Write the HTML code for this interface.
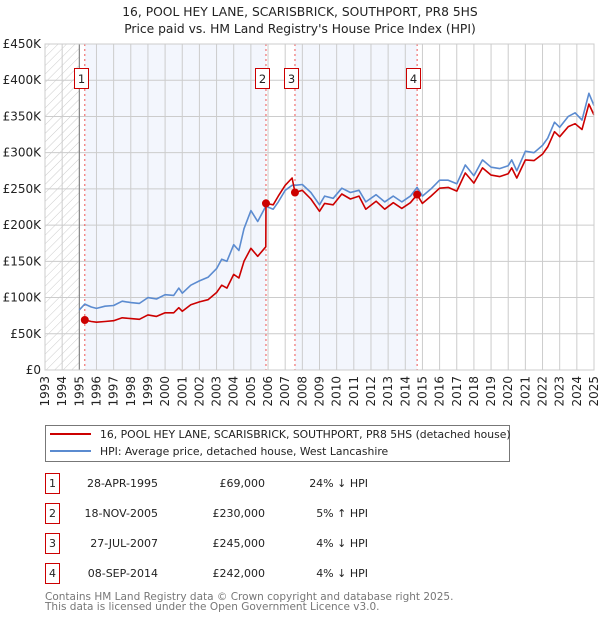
<!DOCTYPE html>
<html><head><meta charset="utf-8"><style>
body{margin:0;background:#fff;font-family:"DejaVu Sans","Liberation Sans",sans-serif;}
svg text{font-family:"DejaVu Sans","Liberation Sans",sans-serif;}
</style></head><body>
<svg id="c" width="600" height="620" xmlns="http://www.w3.org/2000/svg"></svg>
<script>
const years=[1995.0,1995.32,1995.7,1996.0,1996.5,1997.0,1997.5,1998.0,1998.5,1999.0,1999.5,2000.0,2000.5,2000.8,2001.0,2001.5,2002.0,2002.5,2003.0,2003.3,2003.6,2004.0,2004.3,2004.6,2005.0,2005.4,2005.87,2005.88,2006.3,2006.6,2007.0,2007.4,2007.57,2008.0,2008.5,2009.0,2009.3,2009.8,2010.3,2010.8,2011.3,2011.7,2012.3,2012.8,2013.3,2013.8,2014.3,2014.69,2015.0,2015.5,2016.0,2016.5,2017.0,2017.5,2018.0,2018.5,2019.0,2019.5,2020.0,2020.2,2020.5,2021.0,2021.5,2022.0,2022.3,2022.7,2023.0,2023.5,2023.9,2024.3,2024.7,2025.0];
const hpiValues=[83,91,87,85,88,89,95,93,92,100,98,104,103,113,106,117,123,128,140,153,150,173,165,195,220,205,226,226,222,232,248,255,255,256,245,228,240,237,251,245,248,232,242,232,240,232,240,252,240,250,262,262,257,283,268,290,280,278,282,290,275,302,300,310,320,342,335,350,355,345,382,365];
const propValues=[null,69,67,66,67,68,72,71,70,76,74,79,79,86,81,90,94,97,107,117,113,132,127,150,168,157,170,230,228,240,255,265,245,248,236,219,230,228,243,236,240,222,233,222,231,223,231,242,230,240,251,252,247,272,258,279,269,267,271,279,265,290,289,298,308,329,322,336,340,332,367,352];
const saleYears=[1995.32,2005.88,2007.57,2014.69];
const salePrices=[69,230,245,242];
const yTicks=[0,50,100,150,200,250,300,350,400,450];
const yTickLabels=["£0","£50K","£100K","£150K","£200K","£250K","£300K","£350K","£400K","£450K"];
const xTicks=[1993,1994,1995,1996,1997,1998,1999,2000,2001,2002,2003,2004,2005,2006,2007,2008,2009,2010,2011,2012,2013,2014,2015,2016,2017,2018,2019,2020,2021,2022,2023,2024,2025];
const saleDates=["28-APR-1995","18-NOV-2005","27-JUL-2007","08-SEP-2014"];
const salePriceLabels=["£69,000","£230,000","£245,000","£242,000"];
const saleHpi=["24% ↓ HPI","5% ↑ HPI","4% ↓ HPI","4% ↓ HPI"];

const L=45,R=594,T=44,B=370;
const X=v=>L+(v-1993)/(2025-1993)*(R-L);
const Y=v=>B-v/450*(B-T);
const svg=document.getElementById('c');
const NS='http://www.w3.org/2000/svg';
function mk(tag,at,parent){const e=document.createElementNS(NS,tag);for(const k in at)e.setAttribute(k,at[k]);(parent||svg).appendChild(e);return e;}

let t=mk('text',{x:300,y:16,'text-anchor':'middle','font-size':12.3,fill:'#222'});t.textContent='16, POOL HEY LANE, SCARISBRICK, SOUTHPORT, PR8 5HS';


t=mk('text',{x:300,y:33,'text-anchor':'middle','font-size':12.3,fill:'#222'});t.textContent="Price paid vs. HM Land Registry's House Price Index (HPI)";



const defs=mk('defs',{});
const pat=mk('pattern',{id:'h',width:6,height:6,patternUnits:'userSpaceOnUse',patternTransform:'rotate(45)'},defs);
mk('line',{x1:0,y1:0,x2:0,y2:6,stroke:'#ccc','stroke-width':1},pat);

let r=mk('rect',{x:L,y:T,width:X(1995)-L,height:B-T,fill:'url(#h)'});


r=mk('rect',{x:X(saleYears[0]),y:T,width:X(saleYears[1])-X(saleYears[0]),height:B-T,fill:'#f3f6fd'});


r=mk('rect',{x:X(saleYears[2]),y:T,width:X(saleYears[3])-X(saleYears[2]),height:B-T,fill:'#f3f6fd'});



xTicks.forEach(v=>{
 const l=mk('line',{x1:X(v),x2:X(v),y1:T,y2:B,stroke:'#ccc','stroke-width':1});
 
 
 const tx=mk('text',{x:0,y:0,'font-size':12,fill:'#222','text-anchor':'end',transform:`translate(${X(v)+4},${B+6}) rotate(-90)`});
 tx.textContent=v;
 
 
});
yTicks.forEach((v,i)=>{
 const l=mk('line',{x1:L,x2:R,y1:Y(v),y2:Y(v),stroke:'#ccc','stroke-width':1});
 
 
 const tx=mk('text',{x:L-4,y:Y(v)+4,'font-size':12,fill:'#222','text-anchor':'end'});
 tx.textContent=yTickLabels[i];
 
 
});
let ln=mk('line',{x1:X(1995),x2:X(1995),y1:T,y2:B,stroke:'#777','stroke-width':1});



saleYears.forEach((v,i)=>{
 const l=mk('line',{x1:X(v),x2:X(v),y1:T,y2:B,stroke:'#e55','stroke-width':1,'stroke-dasharray':'2,3'});
 
 
});

function path(vals,color,name){
 let d='';vals.forEach((v,i)=>{if(v==null)return;d+=(d?'L':'M')+X(years[i]).toFixed(1)+','+Y(v).toFixed(1);});
 const p=mk('path',{d,fill:'none',stroke:color,'stroke-width':1.6,'stroke-linejoin':'round'});
 
 
}
path(hpiValues,'#5b8bd0','hpi-line');
path(propValues,'#cc0000','price-paid-line');

saleYears.forEach((v,i)=>{
 const c=mk('circle',{cx:X(v),cy:Y(salePrices[i]),r:4,fill:'#cc0000'});
 
 
 const g=mk('g',{});
 
 
 const bx=Math.round(X(v))-10.5;
 mk('rect',{x:bx,y:68.5,width:14,height:20,fill:'#fff',stroke:'#cc0000','stroke-width':1},g);
 const tx=mk('text',{x:bx+7,y:83,'font-size':11.5,'text-anchor':'middle',fill:'#222'},g);tx.textContent=i+1;
});
let fr=mk('rect',{x:L,y:T,width:R-L,height:B-T,fill:'none',stroke:'#ccc'});



// legend
const lg=mk('g',{});


mk('rect',{x:45.5,y:425.5,width:464,height:36,fill:'#fff',stroke:'#777'},lg);
mk('line',{x1:50,x2:91,y1:434,y2:434,stroke:'#cc0000','stroke-width':2},lg);
mk('line',{x1:50,x2:91,y1:451,y2:451,stroke:'#5b8bd0','stroke-width':2},lg);
t=mk('text',{x:100,y:438,'font-size':10.8,fill:'#222'},lg);t.textContent='16, POOL HEY LANE, SCARISBRICK, SOUTHPORT, PR8 5HS (detached house)';
t=mk('text',{x:100,y:455,'font-size':10.8,fill:'#222'},lg);t.textContent='HPI: Average price, detached house, West Lancashire';

// table
saleDates.forEach((d,i)=>{
 const y=483+i*30;
 const g=mk('g',{});
 
 
 mk('rect',{x:45.5,y:y-9.5,width:14,height:20,fill:'#fff',stroke:'#cc0000'},g);
 let a=mk('text',{x:52.5,y:y+4,'font-size':11,'text-anchor':'middle',fill:'#222'},g);a.textContent=i+1;
 a=mk('text',{x:158,y:y+4,'font-size':11,'text-anchor':'end',fill:'#222'},g);a.textContent=d;
 a=mk('text',{x:265,y:y+4,'font-size':11,'text-anchor':'end',fill:'#222'},g);a.textContent=salePriceLabels[i];
 a=mk('text',{x:368,y:y+4,'font-size':11,'text-anchor':'end',fill:'#222'},g);a.textContent=saleHpi[i];
});
t=mk('text',{x:45,y:600,'font-size':10.5,fill:'#777'});t.textContent='Contains HM Land Registry data © Crown copyright and database right 2025.';


t=mk('text',{x:45,y:610,'font-size':10.5,fill:'#777'});t.textContent='This data is licensed under the Open Government Licence v3.0.';


</script>
</body></html>
